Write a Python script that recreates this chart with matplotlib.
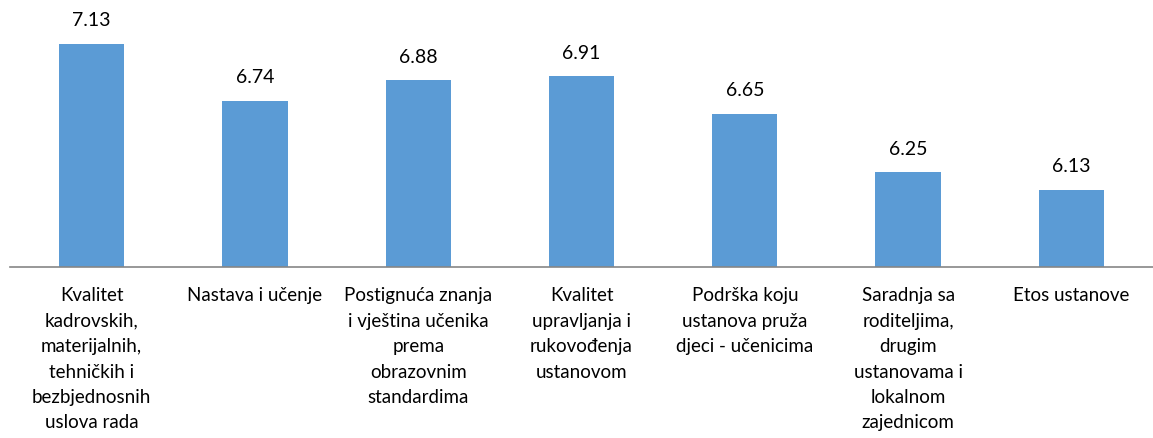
import matplotlib
matplotlib.use("Agg")
import matplotlib.pyplot as plt

categories = [
    "Kvalitet\nkadrovskih,\nmaterijalnih,\ntehničkih i\nbezbjednosnih\nuslova rada",
    "Nastava i učenje",
    "Postignuća znanja\ni vještina učenika\nprema\nobrazovnim\nstandardima",
    "Kvalitet\nupravljanja i\nrukovođenja\nustanovom",
    "Podrška koju\nustanova pruža\ndjeci - učenicima",
    "Saradnja sa\nroditeljima,\ndrugim\nustanovama i\nlokalnom\nzajednicom",
    "Etos ustanove",
]
values = [7.13, 6.74, 6.88, 6.91, 6.65, 6.25, 6.13]

plt.rcParams['font.family'] = ['Lato', 'DejaVu Sans']

fig = plt.figure(figsize=(11.53, 4.39), dpi=100)
ax = fig.add_axes([10 / 1153, 1 - 268 / 439, 1 - 10 / 1153, 268 / 439])

x = range(len(values))
ax.bar(x, values, width=0.4, color="#5B9BD5")
for i, v in zip(x, values):
    ax.annotate(f"{v:.2f}", (i, v), xytext=(0, 11), textcoords="offset points",
                ha="center", va="bottom", fontsize=14, color="black")

ax.set_xlim(-0.5, 6.5)
ax.set_ylim(5.6, 7.436)
ax.set_xticks(list(x))
ax.set_xticklabels(categories, fontsize=13.5, linespacing=1.6, va="top")
ax.tick_params(axis="x", length=0, pad=14)
ax.set_yticks([])
for s in ["top", "left", "right"]:
    ax.spines[s].set_visible(False)
ax.spines["bottom"].set_color("#868686")
ax.spines["bottom"].set_linewidth(1.2)

fig.savefig("out.png", dpi=100)
